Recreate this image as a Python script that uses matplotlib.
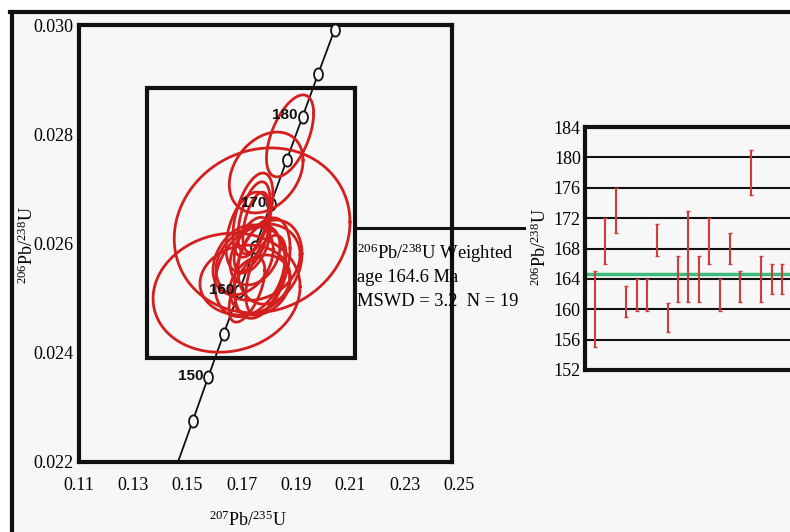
import numpy as np
import matplotlib
matplotlib.use("Agg")
import matplotlib.pyplot as plt
from matplotlib.lines import Line2D
from matplotlib.patches import Rectangle
from matplotlib.markers import MarkerStyle
from matplotlib.transforms import Affine2D

plt.rcParams['font.family'] = ['Liberation Serif', 'DejaVu Serif']
plt.rcParams['mathtext.fontset'] = 'custom'
plt.rcParams['mathtext.rm'] = 'Liberation Serif'
plt.rcParams['mathtext.it'] = 'Liberation Serif:italic'

# concordia points (age, 207Pb/235U, 206Pb/238U)
conc_age = [140, 145, 150, 155, 160, 165, 170, 175, 180, 185, 190, 195]
conc_x = [0.1462, 0.1519, 0.1576, 0.1633, 0.1691, 0.1749, 0.1807, 0.1865, 0.1924, 0.1982, 0.2042, 0.2101]
conc_y = [0.02196, 0.02275, 0.02355, 0.02434, 0.02513, 0.02593, 0.02672, 0.02752, 0.02832, 0.02911, 0.02991, 0.03071]
label_ages = [150, 160, 170, 180]

# error ellipses: centre, half extent in x and y, correlation
ell_x = [0.1775, 0.1644, 0.1790, 0.1878, 0.1741, 0.1745, 0.1752, 0.1723, 0.1760, 0.1730,
         0.1775, 0.1712, 0.1789, 0.1719, 0.1749, 0.1767, 0.1705, 0.1804, 0.1738]
ell_y = [0.02624, 0.02510, 0.02730, 0.02797, 0.02652, 0.02647, 0.02639, 0.02621, 0.02566, 0.02548,
         0.02555, 0.02533, 0.02542, 0.02515, 0.02579, 0.02524, 0.02570, 0.02566, 0.02597]
ell_sx = [0.0324, 0.0271, 0.0136, 0.0087, 0.0074, 0.0059, 0.0048, 0.0081, 0.0155, 0.0129,
          0.0103, 0.0166, 0.0074, 0.0066, 0.0092, 0.0111, 0.0111, 0.0118, 0.0066]
ell_sy = [0.00151, 0.00109, 0.00074, 0.00075, 0.00077, 0.00066, 0.00055, 0.00073, 0.00070, 0.00082,
          0.00092, 0.00064, 0.00073, 0.00059, 0.00055, 0.00055, 0.00064, 0.00077, 0.00051]
ell_rho = [0.1, 0.1, 0.3, 0.55, 0.5, 0.5, 0.5, 0.4, 0.2, 0.3, 0.4, 0.1, 0.5, 0.6, 0.3, 0.2, 0.3, 0.2, 0.5]

# weighted mean panel: 206Pb/238U ages (Ma), low and high ends of each bar
age_low = [155, 166, 170, 159, 159.8, 159.8, 167, 157, 161, 161, 161, 166, 159.8, 166, 161, 175, 161, 162, 162]
age_high = [165, 172, 176, 163, 164, 164, 171.2, 160.8, 167, 173, 167, 172, 164, 170, 165, 181, 167, 166, 166]
mean_age = 164.6

xticks_main = [0.11, 0.13, 0.15, 0.17, 0.19, 0.21, 0.23, 0.25]
yticks_main = [0.022, 0.024, 0.026, 0.028, 0.030]
yticks_right = [152, 156, 160, 164, 168, 172, 176, 180, 184]

W, H = 790, 532
fig = plt.figure(figsize=(W / 100, H / 100), dpi=100, facecolor='white')

def fx(px):
    return px / W

def fy(py):
    return 1 - py / H

# light grey sheet with thick border on top and left
fig.add_artist(Rectangle((fx(12), 0), 1, fy(12), transform=fig.transFigure,
                         facecolor='#f7f7f7', edgecolor='none', zorder=0))
fig.add_artist(Line2D([fx(10), 1], [fy(12), fy(12)], transform=fig.transFigure, color='#111', lw=3))
fig.add_artist(Line2D([fx(12), fx(12)], [fy(12), 0], transform=fig.transFigure, color='#111', lw=3))

# ---- concordia panel
ax = fig.add_axes([fx(79), fy(462), fx(452) - fx(79), fy(25) - fy(462)])
ax.set_facecolor('#f7f7f7')
ax.set_xlim(0.11, 0.2475)
ax.set_ylim(0.022, 0.030)
for s in ax.spines.values():
    s.set_linewidth(3)
    s.set_color('#111')
ax.set_xticks([])
ax.set_yticks(yticks_main)
ax.set_yticklabels(['%.3f' % v for v in yticks_main], fontsize=13)
ax.tick_params(axis='y', length=0, pad=4)
for v in xticks_main:
    ax.text(v, -0.053, '%.2f' % v, transform=ax.get_xaxis_transform(),
            ha='center', va='center', fontsize=13, clip_on=False)

ax.plot(conc_x, conc_y, color='#111', lw=1.3, zorder=2)
tall_o = MarkerStyle('o', transform=Affine2D().scale(0.8, 1.1))
ax.plot(conc_x[1:-1], conc_y[1:-1], ls='none', marker=tall_o, ms=8, mfc='#f7f7f7',
        mec='#111', mew=1.3, zorder=3)

t = np.linspace(0, 2 * np.pi, 200)
for cx, cy, sx, sy, r in zip(ell_x, ell_y, ell_sx, ell_sy, ell_rho):
    ex = cx + sx * np.cos(t)
    ey = cy + sy * (r * np.cos(t) + np.sqrt(1 - r * r) * np.sin(t))
    ax.plot(ex, ey, color='#d41f1f', lw=2.0, zorder=4)

for a in label_ages:
    i = conc_age.index(a)
    ax.annotate(str(a), (conc_x[i], conc_y[i]), xytext=(-3.5, 1), textcoords='offset points',
                ha='right', va='center', fontsize=11, fontweight='bold',
                family=['Liberation Sans', 'DejaVu Sans'], color='#111', zorder=6)

ax.add_patch(Rectangle((0.1351, 0.02390), 0.2117 - 0.1351, 0.02885 - 0.02390,
                       fill=False, edgecolor='#111', lw=3, zorder=5))

fig.text(fx(27), fy(245), r'$^{206}$Pb/$^{238}$U', rotation=90, ha='center', va='center', fontsize=13)
fig.text(fx(248), fy(520), r'$^{207}$Pb/$^{235}$U', ha='center', va='center', fontsize=13)

# connector and result text
fig.add_artist(Line2D([fx(355), fx(524)], [fy(228), fy(228)], transform=fig.transFigure, color='#111', lw=2.2))
fig.text(fx(357), fy(253), r'$^{206}$Pb/$^{238}$U Weighted', ha='left', va='center', fontsize=13.3)
fig.text(fx(357), fy(277), 'age 164.6 Ma', ha='left', va='center', fontsize=13.3)
fig.text(fx(357), fy(301), 'MSWD = 3.2  N = 19', ha='left', va='center', fontsize=13.3)

# ---- weighted mean panel
ax2 = fig.add_axes([fx(585), fy(370), fx(800) - fx(585), fy(127) - fy(370)])
ax2.set_facecolor('#f7f7f7')
ax2.set_ylim(152, 184)
ax2.set_xlim(0.04, 20.73)
for s in ax2.spines.values():
    s.set_linewidth(3)
    s.set_color('#111')
ax2.set_xticks([])
ax2.set_yticks(yticks_right)
ax2.set_yticklabels([str(v) for v in yticks_right], fontsize=13)
ax2.tick_params(axis='y', length=0, pad=3)
for v in yticks_right[1:-1]:
    ax2.axhline(v, color='#111', lw=1.5, zorder=1)
ax2.axhline(mean_age, color='#3dbb78', lw=2.5, zorder=2)

idx = np.arange(1, len(age_low) + 1)
lo = np.array(age_low)
hi = np.array(age_high)
mid = (lo + hi) / 2
ax2.errorbar(idx, mid, yerr=(hi - lo) / 2, fmt='none', ecolor='#d43a3a', elinewidth=1.5,
             capsize=1.5, capthick=1.0, zorder=3)

fig.text(fx(540), fy(247), r'$^{206}$Pb/$^{238}$U', rotation=90, ha='center', va='center', fontsize=13)

fig.savefig('out.png', dpi=100, facecolor=fig.get_facecolor())
